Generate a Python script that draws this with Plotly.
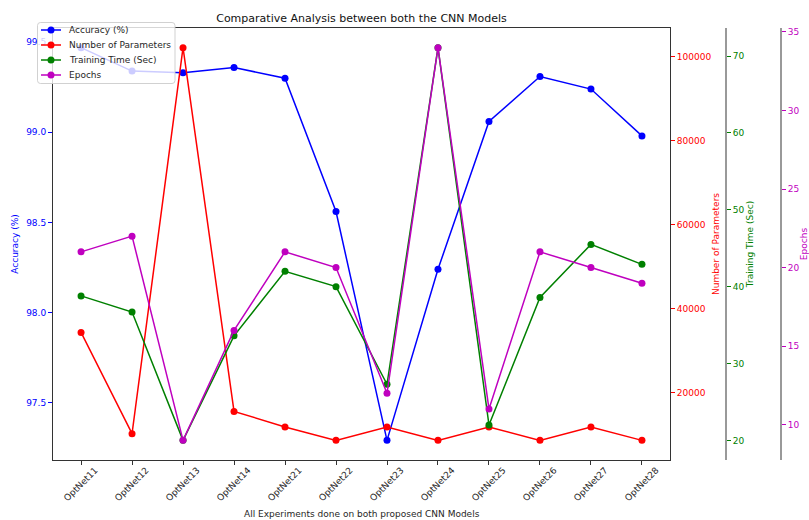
import plotly.graph_objects as go

# Experiment data for the two CNN model families
models = ["OptNet11", "OptNet12", "OptNet13", "OptNet14", "OptNet21", "OptNet22",
          "OptNet23", "OptNet24", "OptNet25", "OptNet26", "OptNet27", "OptNet28"]
accuracy = [99.47, 99.34, 99.33, 99.36, 99.30, 98.56, 97.29, 98.24, 99.06, 99.31, 99.24, 98.98]
parameters = [34400, 10300, 102200, 15600, 11900, 8700, 11900, 8700, 11900, 8700, 11900, 8700]
train_time = [38.8, 36.7, 20.0, 33.6, 42.0, 40.0, 27.3, 71.1, 22.0, 38.6, 45.5, 42.9]
epochs = [21, 22, 9, 16, 21, 20, 12, 34, 11, 21, 20, 19]

series_names = ["Accuracy (%)", "Number of Parameters", "Training Time (Sec)", "Epochs"]
series_colors = ["#0000ff", "#ff0000", "#008000", "#bf00bf"]
BLUE, RED, GREEN, MAGENTA = series_colors
FONT = "DejaVu Sans"
TEXT = "#262626"


def padded(values, frac=0.05):
    lo, hi = min(values), max(values)
    m = (hi - lo) * frac
    return [lo - m, hi + m]


fig = go.Figure()
for y, name, color, axis in zip([accuracy, parameters, train_time, epochs],
                                series_names, series_colors, ["y", "y2", "y3", "y4"]):
    fig.add_trace(go.Scatter(
        x=models, y=y, name=name, yaxis=axis, mode="lines+markers",
        line=dict(color=color, width=1.5),
        marker=dict(color=color, size=7),
        showlegend=False,
    ))

W, H = 809, 520
L, R, T, B = 53, 10, 28, 60
plot_w = W - L - R
plot_h = H - T - B
x_end = (670 - L) / plot_w


def px(xp):
    return (xp - L) / plot_w


def py(yp):
    return 1 - (yp - T) / plot_h


tick_font = dict(family=FONT, size=9)
spine = "#999999"

fig.update_layout(
    width=W, height=H,
    margin=dict(l=L, r=R, t=T, b=B, autoexpand=False),
    paper_bgcolor="white", plot_bgcolor="white",
    font=dict(family=FONT, size=9, color=TEXT),
    showlegend=False,
    title=dict(text="Comparative Analysis between both the CNN Models",
               x=(L + 617 / 2) / W, xref="container", xanchor="center",
               y=1 - 18 / H, yref="container", yanchor="middle",
               font=dict(family=FONT, size=11, color="#111")),
    xaxis=dict(domain=[0, x_end], type="category", categoryorder="array", categoryarray=models,
               range=[-0.55, len(models) - 1 + 0.55], automargin=False,
               showline=True, mirror=True, linecolor="#333", linewidth=1,
               ticks="outside", ticklen=4, tickcolor="#333",
               showticklabels=False, showgrid=False, zeroline=False),
    yaxis=dict(range=padded(accuracy), dtick=0.5, tickformat=".1f", automargin=False,
               showline=True, mirror=True, linecolor="#333", linewidth=1,
               ticks="outside", ticklen=4, tickcolor=BLUE,
               tickfont=dict(tick_font, color=BLUE),
               title=dict(text="Accuracy (%)", font=dict(family=FONT, size=9, color=BLUE), standoff=6),
               showgrid=False, zeroline=False),
    yaxis2=dict(range=padded(parameters), dtick=20000, tick0=0, tickformat="d", automargin=False,
                overlaying="y", side="right", anchor="x", showline=False,
                ticks="outside", ticklen=4, tickcolor=RED,
                tickfont=dict(tick_font, color=RED),
                title=dict(text="Number of Parameters", font=dict(family=FONT, size=9, color=RED), standoff=2),
                showgrid=False, zeroline=False),
    yaxis3=dict(range=padded(train_time), dtick=10, tick0=0, automargin=False,
                overlaying="y", side="right", anchor="free", position=px(726),
                showline=True, linecolor=spine, linewidth=2,
                ticks="outside", ticklen=4, tickcolor=GREEN,
                tickfont=dict(tick_font, color=GREEN),
                title=dict(text="Training Time (Sec)", font=dict(family=FONT, size=9, color=GREEN), standoff=2),
                showgrid=False, zeroline=False),
    yaxis4=dict(range=padded(epochs), dtick=5, tick0=0, automargin=False,
                overlaying="y", side="right", anchor="free", position=px(781),
                showline=True, linecolor=spine, linewidth=2,
                ticks="outside", ticklen=4, tickcolor=MAGENTA,
                tickfont=dict(tick_font, color=MAGENTA),
                title=dict(text="Epochs", font=dict(family=FONT, size=9, color=MAGENTA), standoff=5),
                showgrid=False, zeroline=False),
)

# Rotated category labels, centred under each tick
for name in models:
    fig.add_annotation(x=name, xref="x", y=0, yref="paper", yshift=-24,
                       text=name, textangle=-45, showarrow=False,
                       xanchor="center", yanchor="middle",
                       font=dict(family=FONT, size=9, color=TEXT))

fig.add_annotation(x=(617 / 2) / plot_w, xref="paper", y=0, yref="paper", yshift=-54,
                   text="All Experiments done on both proposed CNN Models", showarrow=False,
                   xanchor="center", yanchor="middle",
                   font=dict(family=FONT, size=9, color=TEXT))

# Compact legend box in the upper-left corner
x0, x1, y0, y1, r = 37.5, 175, 22.5, 83.5, 3
fig.add_shape(
    type="path", xref="paper", yref="paper", layer="above",
    path=(f"M {px(x0 + r)} {py(y0)} L {px(x1 - r)} {py(y0)} Q {px(x1)} {py(y0)} {px(x1)} {py(y0 + r)} "
          f"L {px(x1)} {py(y1 - r)} Q {px(x1)} {py(y1)} {px(x1 - r)} {py(y1)} "
          f"L {px(x0 + r)} {py(y1)} Q {px(x0)} {py(y1)} {px(x0)} {py(y1 - r)} "
          f"L {px(x0)} {py(y0 + r)} Q {px(x0)} {py(y0)} {px(x0 + r)} {py(y0)} Z"),
    fillcolor="rgba(255,255,255,0.8)", line=dict(color="rgba(204,204,204,0.9)", width=1),
)
for i, (name, color) in enumerate(zip(series_names, series_colors)):
    yc = 30 + 15 * i
    fig.add_shape(type="line", xref="paper", yref="paper", layer="above",
                  x0=px(41), x1=px(61), y0=py(yc), y1=py(yc),
                  line=dict(color=color, width=1.5))
    fig.add_shape(type="circle", xref="paper", yref="paper", layer="above",
                  x0=px(47.5), x1=px(54.5), y0=py(yc - 3.5), y1=py(yc + 3.5),
                  fillcolor=color, line=dict(color=color, width=0))
    fig.add_annotation(x=px(67), xref="paper", y=py(yc), yref="paper",
                       text=name, showarrow=False, xanchor="left", yanchor="middle",
                       font=dict(family=FONT, size=9, color=TEXT))

fig.write_html("out.html")
